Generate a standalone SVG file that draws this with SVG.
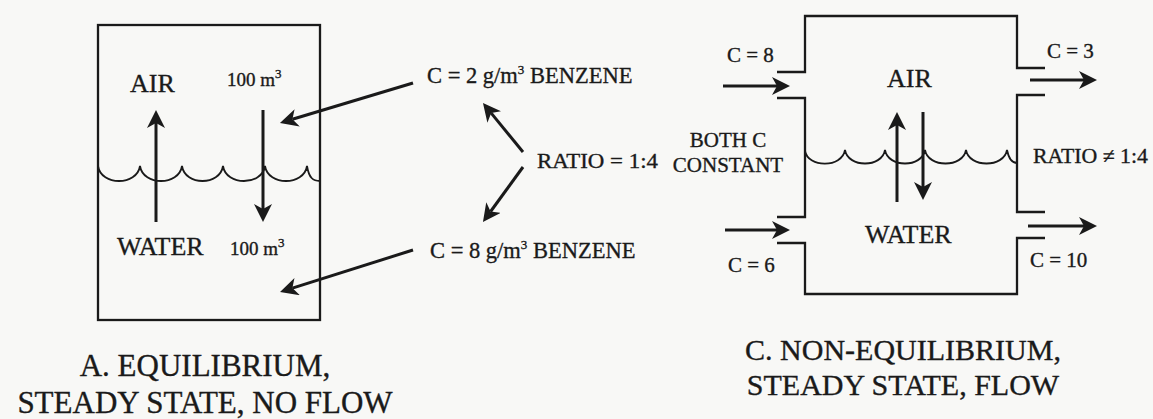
<svg xmlns="http://www.w3.org/2000/svg" width="1153" height="419" viewBox="0 0 1153 419">
  <defs>
    <!-- filled swept-back arrowhead; the line ends at the notch -->
    <marker id="head" viewBox="0 0 18 18" refX="5" refY="9" markerWidth="18" markerHeight="18" markerUnits="userSpaceOnUse" orient="auto">
      <path d="M0,0 L18,9 L0,18 L5,9 Z" fill="#1a1a1a"/>
    </marker>
    <style>
      .wall { fill: none; stroke: #1a1a1a; stroke-width: 2.3; stroke-linejoin: miter; }
      .wave { fill: none; stroke: #1a1a1a; stroke-width: 1.8; }
      .arrow { fill: none; stroke: #1a1a1a; stroke-width: 3; marker-end: url(#head); }
      text { font-family: "Liberation Serif", "Times New Roman", serif; fill: #1a1a1a; stroke: #1a1a1a; stroke-width: 0.35; }
      .big { font-size: 26px; }
      .mid { font-size: 22.5px; }
      .small { font-size: 21px; }
      .vol { font-size: 19px; }
      .cap { font-size: 30px; text-anchor: middle; }
      .sup { font-size: 13px; }
    </style>
  </defs>

  <rect width="1153" height="419" fill="#f8f8f6"/>

  <!-- A: closed vessel, equilibrium -->
  <g id="vessel-a">
    <rect class="wall" x="98" y="25" width="222" height="295"/>
    <path class="wave" d="M98,166 C101,186 137,186 140,166 C143,186 179,186 182,166 C185,186 220,186 223,166 C226,186 262,186 265,166 C268,186 304,186 307,166 C309,178 313,181 320,181"/>
    <text class="big" x="130" y="92">AIR</text>
    <text class="vol" x="227" y="86">100 m<tspan class="sup" dy="-8">3</tspan></text>
    <text class="big" x="117" y="255">WATER</text>
    <text class="vol" x="230" y="255">100 m<tspan class="sup" dy="-8">3</tspan></text>
  </g>

  <g id="label-air-conc">
    <text class="mid" x="427" y="83">C = 2 g/m<tspan class="sup" dy="-9">3</tspan><tspan dy="9"> BENZENE</tspan></text>
  </g>
  <g id="label-water-conc">
    <text class="mid" x="430" y="258">C = 8 g/m<tspan class="sup" dy="-9">3</tspan><tspan dy="9"> BENZENE</tspan></text>
  </g>
  <g id="label-ratio">
    <text class="small" x="537" y="168" textLength="121" lengthAdjust="spacingAndGlyphs">RATIO = 1:4</text>
  </g>

  <!-- C: flow-through vessel, non-equilibrium -->
  <g id="vessel-c">
    <path class="wall" d="M777,72 H805 V16 H1017 V68 H1045"/>
    <path class="wall" d="M1045,95 H1017 V212 H1045"/>
    <path class="wall" d="M1045,238 H1017 V294 H805 V243 H777"/>
    <path class="wall" d="M777,217 H805 V98 H777"/>
    <path class="wave" d="M805,151 C808,168 842,168 845,150 C848,168 882,168 885,150 C888,168 922,168 925,150 C928,168 963,168 966,150 C969,168 1004,168 1007,150 C1009,160 1013,163 1017,163"/>
    <text class="big" x="887" y="87">AIR</text>
    <text class="big" x="865" y="243">WATER</text>
  </g>

  <g id="inlet-labels">
    <text class="small" x="727" y="62">C = 8</text>
    <text class="small" x="728" y="147" text-anchor="middle">BOTH C</text>
    <text class="small" x="728" y="172" text-anchor="middle">CONSTANT</text>
    <text class="small" x="728" y="272">C = 6</text>
  </g>
  <g id="outlet-labels">
    <text class="small" x="1047" y="58">C = 3</text>
    <text class="small" x="1033" y="163" textLength="115" lengthAdjust="spacingAndGlyphs">RATIO ≠ 1:4</text>
    <text class="small" x="1030" y="267">C = 10</text>
  </g>

  <g id="captions">
    <text class="cap" x="205" y="376" style="font-size:31px">A. EQUILIBRIUM,</text>
    <text class="cap" x="205" y="413" style="font-size:31px">STEADY STATE, NO FLOW</text>
    <text class="cap" x="903" y="360">C. NON-EQUILIBRIUM,</text>
    <text class="cap" x="903" y="395">STEADY STATE, FLOW</text>
  </g>

  <g id="connectors">
    <!-- exchange across the interface, vessel A -->
    <path class="arrow" d="M156,222 V123"/>
    <path class="arrow" d="M263,110 V209"/>
    <!-- concentration labels pointing into each phase -->
    <path class="arrow" d="M413,83 L292.4,119.3"/>
    <path class="arrow" d="M413,250 L292.4,288.1"/>
    <!-- ratio pointers -->
    <path class="arrow" d="M523,152 L491.2,113.1"/>
    <path class="arrow" d="M523,167 L490.6,211.5"/>
    <!-- inflows, vessel C -->
    <path class="arrow" d="M723,86 H777"/>
    <path class="arrow" d="M725,230 H777"/>
    <!-- outflows, vessel C -->
    <path class="arrow" d="M1030,80 H1084"/>
    <path class="arrow" d="M1028,226 H1084"/>
    <!-- exchange across the interface, vessel C -->
    <path class="arrow" d="M897,202 V125"/>
    <path class="arrow" d="M923,112 V187"/>
  </g>
</svg>
